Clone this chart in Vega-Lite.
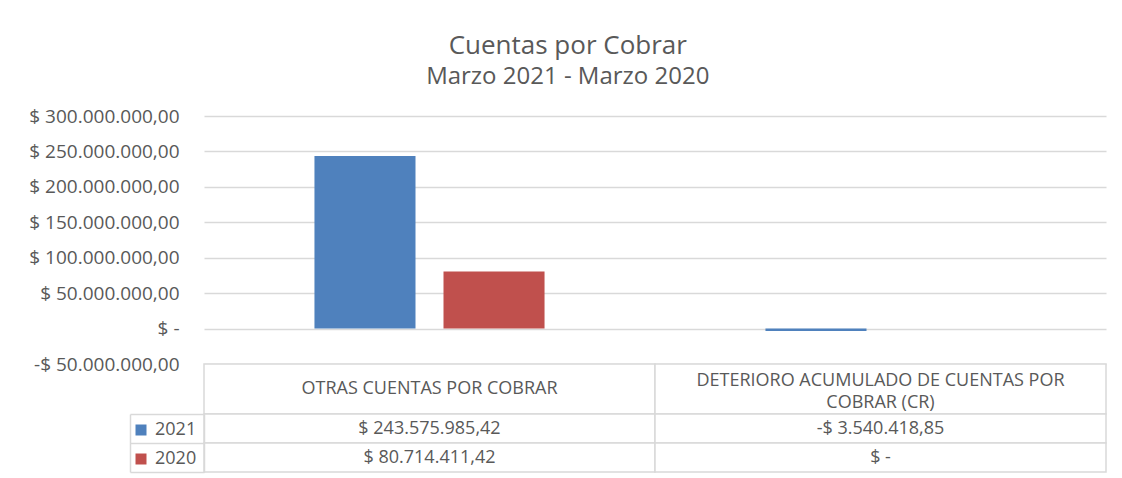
{
  "$schema": "https://vega.github.io/schema/vega-lite/v6.json",
  "background": "white",
  "padding": {"left": 28, "top": 33, "right": 10, "bottom": 4},
  "config": {
    "font": "Open Sans",
    "view": {"stroke": null},
    "locale": {"number": {"decimal": ",", "thousands": ".", "grouping": [3], "currency": ["$ ", ""], "minus": "-"}}
  },
  "title": {
    "text": "Cuentas por Cobrar",
    "subtitle": "Marzo 2021 - Marzo 2020",
    "fontSize": 26,
    "subtitleFontSize": 24,
    "fontWeight": "normal",
    "color": "#595959",
    "subtitleColor": "#595959",
    "anchor": "middle",
    "frame": "bounds",
    "offset": 18,
    "subtitlePadding": 6
  },
  "datasets": {
    "cuentas": [
      {"categoria": "OTRAS CUENTAS POR COBRAR", "anio": "2021", "valor": 243575985.42},
      {"categoria": "OTRAS CUENTAS POR COBRAR", "anio": "2020", "valor": 80714411.42},
      {"categoria": "DETERIORO ACUMULADO DE CUENTAS POR COBRAR (CR)", "anio": "2021", "valor": -3540418.85},
      {"categoria": "DETERIORO ACUMULADO DE CUENTAS POR COBRAR (CR)", "anio": "2020", "valor": 0}
    ]
  },
  "spacing": 0,
  "bounds": "flush",
  "resolve": {"scale": {"color": "independent", "x": "independent", "y": "independent"}},
  "vconcat": [
    {
      "width": 902,
      "height": 248,
      "data": {"name": "cuentas"},
      "mark": {"type": "bar"},
      "encoding": {
        "x": {"field": "categoria", "type": "nominal", "sort": null, "scale": {"paddingInner": 0, "paddingOuter": 0}, "axis": null},
        "xOffset": {"field": "anio", "type": "nominal", "sort": ["2021", "2020"], "scale": {"paddingInner": 0.217, "paddingOuter": 0.856}},
        "y": {
          "field": "valor",
          "type": "quantitative",
          "scale": {"domain": [-50000000, 300000000], "nice": false, "zero": false},
          "axis": {
            "values": [-50000000, 0, 50000000, 100000000, 150000000, 200000000, 250000000, 300000000],
            "format": "$,.2f",
            "labelExpr": "datum.value == 0 ? '$ -' : datum.label",
            "grid": true,
            "gridColor": "#d9d9d9",
            "gridWidth": 1.5,
            "domain": false,
            "ticks": false,
            "labelPadding": 25,
            "labelFontSize": 19,
            "labelColor": "#595959",
            "title": null
          }
        },
        "color": {"field": "anio", "type": "nominal", "scale": {"domain": ["2021", "2020"], "range": ["#4F81BD", "#C0504D"]}, "legend": null}
      }
    },
    {
      "width": 902,
      "height": 50,
      "data": {"name": "cuentas"},
      "transform": [
        {"filter": "datum.anio == '2021'"},
        {"calculate": "replace(datum.categoria, 'POR COBRAR (CR)', 'POR\\nCOBRAR (CR)')", "as": "etiqueta"}
      ],
      "encoding": {
        "x": {"field": "categoria", "type": "nominal", "sort": null, "scale": {"paddingInner": 0, "paddingOuter": 0}, "axis": null}
      },
      "layer": [
        {"mark": {"type": "rect", "fill": "white", "stroke": "#d9d9d9", "strokeWidth": 1.5}},
        {
          "mark": {"type": "text", "fontSize": 18, "color": "#595959", "lineBreak": "\n", "lineHeight": 22, "dy": {"expr": "indexof(datum.etiqueta, '\\n') >= 0 ? -8 : 0"}},
          "encoding": {"text": {"field": "etiqueta", "type": "nominal"}}
        }
      ]
    },
    {
      "width": 902,
      "height": 58,
      "data": {"name": "cuentas"},
      "encoding": {
        "x": {"field": "categoria", "type": "nominal", "sort": null, "scale": {"paddingInner": 0, "paddingOuter": 0}, "axis": null}
      },
      "layer": [
        {
          "mark": {"type": "rect", "fill": "white", "stroke": "#d9d9d9", "strokeWidth": 1.5},
          "encoding": {
            "y": {
              "field": "anio", "type": "nominal", "sort": ["2021", "2020"],
              "scale": {"paddingInner": 0, "paddingOuter": 0},
              "axis": {"orient": "left", "labels": false, "ticks": true, "tickBand": "extent", "tickSize": 74, "tickColor": "#d9d9d9", "tickWidth": 1.5, "domain": true, "domainColor": "#d9d9d9", "domainWidth": 1.5, "title": null, "grid": false}
            }
          }
        },
        {
          "mark": {"type": "text", "fontSize": 18, "color": "#595959"},
          "encoding": {
            "y": {
              "field": "anio", "type": "nominal", "sort": ["2021", "2020"],
              "axis": {"orient": "left", "offset": 74, "labels": false, "ticks": false, "domain": true, "domainColor": "#d9d9d9", "domainWidth": 1.5, "title": null, "grid": false}
            },
            "text": {"condition": {"test": "datum.valor === 0", "value": "$ -"}, "field": "valor", "type": "quantitative", "format": "$,.2f"}
          }
        },
        {
          "mark": {"type": "square", "opacity": 0},
          "encoding": {
            "y": {"field": "anio", "type": "nominal", "sort": ["2021", "2020"], "axis": null},
            "color": {
              "field": "anio", "type": "nominal",
              "scale": {"domain": ["2021", "2020"], "range": ["#4F81BD", "#C0504D"]},
              "legend": {"orient": "left", "offset": -75, "padding": 7, "title": null, "symbolType": "square", "symbolSize": 121, "symbolOpacity": 1, "symbolStrokeWidth": 0, "labelFontSize": 18, "labelColor": "#595959", "rowPadding": 11, "labelOffset": 5}
            }
          }
        }
      ],
      "resolve": {"axis": {"y": "independent"}}
    }
  ]
}
